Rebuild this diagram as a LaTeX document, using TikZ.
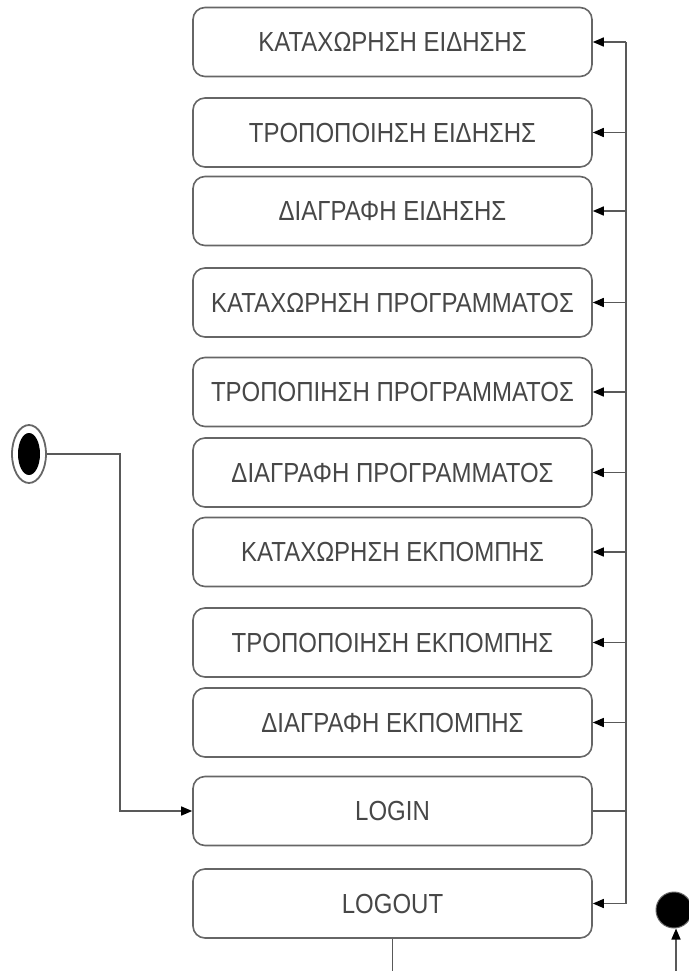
\documentclass[tikz,border=0pt]{standalone}
\usepackage{fontspec}
\setmainfont{Liberation Sans}
\usetikzlibrary{arrows.meta,shapes.geometric}
\newcommand\lbl[1]{\scalebox{1}[1.15]{#1}}
\tikzset{
  box/.style={draw=black!60, line width=1.6bp, rounded corners=12bp,
    minimum width=399bp, minimum height=69bp, inner sep=0pt,
    text=black!72, font=\fontsize{24bp}{28bp}\selectfont},
  conn/.style={draw=black!65, line width=1.5bp},
  arr/.style={conn, -{Triangle[length=11bp,width=9bp,color=black]}},
}
\begin{document}
\begin{tikzpicture}[x=1bp,y=-1bp]
\useasboundingbox (0,0) rectangle (689,971);
\clip (0,0) rectangle (689,971);
\fill[white] (0,0) rectangle (689,971);
\node[box] (b1) at (392.5,42) {\lbl{ΚΑΤΑΧΩΡΗΣΗ ΕΙΔΗΣΗΣ}};
\node[box] (b2) at (392.5,132.5) {\lbl{ΤΡΟΠΟΠΟΙΗΣΗ ΕΙΔΗΣΗΣ}};
\node[box] (b3) at (392.5,211) {\lbl{ΔΙΑΓΡΑΦΗ ΕΙΔΗΣΗΣ}};
\node[box] (b4) at (392.5,302.5) {\lbl{ΚΑΤΑΧΩΡΗΣΗ ΠΡΟΓΡΑΜΜΑΤΟΣ}};
\node[box] (b5) at (392.5,392) {\lbl{ΤΡΟΠΟΠΙΗΣΗ ΠΡΟΓΡΑΜΜΑΤΟΣ}};
\node[box] (b6) at (392.5,472.5) {\lbl{ΔΙΑΓΡΑΦΗ ΠΡΟΓΡΑΜΜΑΤΟΣ}};
\node[box] (b7) at (392.5,552) {\lbl{ΚΑΤΑΧΩΡΗΣΗ ΕΚΠΟΜΠΗΣ}};
\node[box] (b8) at (392.5,642.5) {\lbl{ΤΡΟΠΟΠΟΙΗΣΗ ΕΚΠΟΜΠΗΣ}};
\node[box] (b9) at (392.5,722.5) {\lbl{ΔΙΑΓΡΑΦΗ ΕΚΠΟΜΠΗΣ}};
\node[box] (login) at (392.5,811) {\lbl{LOGIN}};
\node[box] (logout) at (392.5,903.5) {\lbl{LOGOUT}};
% initial state
\node[ellipse, draw=black!60, line width=1.8bp, minimum width=34bp, minimum height=58bp, inner sep=0pt] (init) at (29,454) {};
\fill[black] (init.center) ellipse [x radius=11bp, y radius=21bp];
% final state
\node[circle, fill=black, draw=black!60, line width=1bp, minimum size=36bp, inner sep=0pt] (fin) at (674,910) {};
% connectors
\coordinate (bend) at (120,454);
\draw[arr] (init.east) -- (bend) |- (login.west);
\coordinate (ttop) at (626,42);
\coordinate (tbot) at (626,903.5);
\draw[conn] (login.east) -- (login.east -| ttop);
\draw[conn, line width=2.2bp] (ttop) -- (tbot);
\foreach \n in {b1,b2,b3,b4,b5,b6,b7,b8,b9,logout}{
  \draw[arr] (\n.east -| ttop) -- (\n.east);
}
\coordinate (lobot) at (392.5,971);
\draw[conn] (logout.south) -- (lobot);
\coordinate (finbot) at (676,971);
\draw[arr] (finbot) -- (finbot |- fin.south);
\end{tikzpicture}
\end{document}
